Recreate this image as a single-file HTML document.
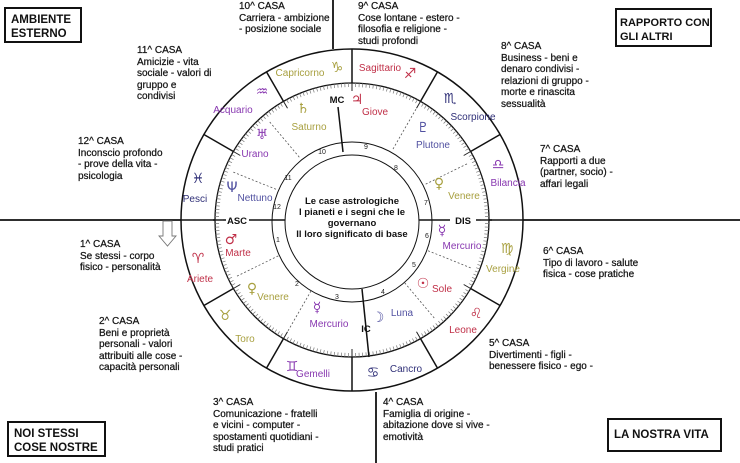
<!DOCTYPE html>
<html><head><meta charset="utf-8"><style>
html,body{margin:0;padding:0;background:#fff;}
body{width:740px;height:463px;overflow:hidden;position:relative;font-family:"Liberation Sans",Arial,sans-serif;}
.t{position:absolute;font-size:10px;line-height:11.5px;color:#151515;-webkit-text-stroke:0.25px #151515;white-space:nowrap;}
.b{position:absolute;border:2px solid #111;font-size:11.5px;font-weight:bold;line-height:14px;color:#111;padding:4px 5px;box-sizing:border-box;white-space:nowrap;}
svg text{font-family:"Liberation Sans",Arial,"DejaVu Sans",sans-serif;}
.sy{font-family:"DejaVu Sans",sans-serif !important;font-size:14px;}
</style></head><body>
<svg id="s" width="740" height="463" style="position:absolute;left:0;top:0">
<g stroke="#111" fill="none">
<line x1="0" y1="220" x2="181" y2="220" stroke-width="1.8"/>
<line x1="523" y1="220" x2="740" y2="220" stroke-width="1.8"/>
<line x1="333" y1="0" x2="333" y2="49" stroke-width="1.8"/>
<line x1="376" y1="392" x2="376" y2="463" stroke-width="1.8"/>
<circle cx="352" cy="220" r="171" stroke-width="1.5"/>
<circle cx="352" cy="220" r="137" stroke-width="1.3"/>
<circle cx="352" cy="222" r="80" stroke-width="1"/>
<circle cx="352" cy="222" r="67" stroke-width="1"/>
<line x1="213" y1="220" x2="226" y2="220" stroke-width="1.5"/>
<line x1="249" y1="220" x2="285" y2="220" stroke-width="1.5"/>
<line x1="419" y1="220" x2="450" y2="220" stroke-width="1.5"/>
<line x1="476" y1="220" x2="492" y2="220" stroke-width="1.5"/>
<line x1="338" y1="107" x2="343" y2="152" stroke-width="1.5"/>
<line x1="362" y1="289" x2="369" y2="357" stroke-width="1.5"/>
<path d="M163 221 L172 221 L172 236 L176 236 L167.5 246 L159 236 L163 236 Z" stroke="#777" stroke-width="0.9"/>
</g>
<g id="tk"></g>
<g font-size="10" text-anchor="middle">
<text x="300" y="76" fill="#a8a040">Capricorno</text><text class="sy" x="337" y="72" fill="#a8a040">♑</text>
<text x="380" y="71" fill="#c03048">Sagittario</text><text class="sy" x="410" y="78" fill="#c03048">♐</text>
<text x="473" y="120" fill="#303078">Scorpione</text><text class="sy" x="450" y="103" fill="#303078">♏</text>
<text x="508" y="186" fill="#8838b0">Bilancia</text><text class="sy" x="498" y="169" fill="#8838b0">♎</text>
<text x="503" y="272" fill="#a8a040">Vergine</text><text class="sy" x="507" y="253" fill="#a8a040">♍</text>
<text x="463" y="333" fill="#c03048">Leone</text><text class="sy" x="476" y="318" fill="#c03048">♌</text>
<text x="406" y="372" fill="#303078">Cancro</text><text class="sy" x="373" y="377" fill="#303078">♋</text>
<text x="313" y="377" fill="#8838b0">Gemelli</text><text class="sy" x="292" y="371" fill="#8838b0">♊</text>
<text x="245" y="342" fill="#a8a040">Toro</text><text class="sy" x="225" y="320" fill="#a8a040">♉</text>
<text x="200" y="282" fill="#c03048">Ariete</text><text class="sy" x="198" y="263" fill="#c03048">♈</text>
<text x="195" y="202" fill="#303078">Pesci</text><text class="sy" x="198" y="183" fill="#303078">♓</text>
<text x="233" y="113" fill="#8838b0">Acquario</text><text class="sy" x="262" y="96" fill="#8838b0">♒</text>

<text x="309" y="130" fill="#a8a040">Saturno</text><text class="sy" x="303" y="113" fill="#a8a040">♄</text>
<text x="375" y="115" fill="#c03048">Giove</text><text class="sy" x="357" y="104" fill="#c03048">♃</text>
<text x="433" y="148" fill="#5050a0">Plutone</text><text class="sy" x="423" y="132" fill="#5050a0">♇</text>
<text x="464" y="199" fill="#a8a040">Venere</text><text class="sy" x="439" y="188" fill="#a8a040">♀</text>
<text x="462" y="249" fill="#8838b0">Mercurio</text><text class="sy" x="442" y="235" fill="#8838b0">☿</text>
<text x="442" y="292" fill="#c03048">Sole</text><text class="sy" x="423" y="288" fill="#c03048">☉</text>
<text x="402" y="316" fill="#5050a0">Luna</text><text class="sy" x="378" y="322" fill="#5050a0">☽</text>
<text x="329" y="327" fill="#8838b0">Mercurio</text><text class="sy" x="317" y="312" fill="#8838b0">☿</text>
<text x="273" y="300" fill="#a8a040">Venere</text><text class="sy" x="252" y="293" fill="#a8a040">♀</text>
<text x="238" y="256" fill="#c03048">Marte</text><text class="sy" x="231" y="244" fill="#c03048">♂</text>
<text x="255" y="201" fill="#5050a0">Nettuno</text><text class="sy" x="232" y="192" fill="#5050a0">Ψ</text>
<text x="255" y="157" fill="#8838b0">Urano</text><text class="sy" x="262" y="139" fill="#8838b0">♅</text>
</g>
<g font-size="7" fill="#222" text-anchor="middle">
<text x="322" y="154">10</text><text x="366" y="149">9</text><text x="396" y="170">8</text><text x="426" y="205">7</text>
<text x="427" y="238">6</text><text x="414" y="267">5</text><text x="383" y="294">4</text><text x="337" y="299">3</text>
<text x="297" y="286">2</text><text x="278" y="242">1</text><text x="277" y="209">12</text><text x="288" y="180">11</text>
</g>
<g font-size="9.5" font-weight="bold" fill="#111" text-anchor="middle">
<text x="337" y="103">MC</text><text x="366" y="332">IC</text>
<text x="237" y="224">ASC</text><text x="463" y="224">DIS</text>
</g>
<g font-size="9.5" font-weight="bold" fill="#111" text-anchor="middle">
<text x="352" y="204">Le case astrologiche</text>
<text x="352" y="215">I pianeti e i segni  che le</text>
<text x="352" y="226">governano</text>
<text x="352" y="237">Il loro significato di base</text>
</g>
</svg>
<script>
(function(){
var g=document.getElementById('tk'),cx=352,cy=220,h='';
function L(a,r1,r2,c,w,d){var t=a*Math.PI/180;return '<line x1="'+(cx+r1*Math.cos(t)).toFixed(1)+'" y1="'+(cy-r1*Math.sin(t)).toFixed(1)+'" x2="'+(cx+r2*Math.cos(t)).toFixed(1)+'" y2="'+(cy-r2*Math.sin(t)).toFixed(1)+'" stroke="'+c+'" stroke-width="'+w+'"'+(d?' stroke-dasharray="2,2"':'')+'/>';}
for(var a=0;a<360;a+=1.5){var big=(Math.round(a*2)%20==0);var len=big?8:4;h+=L(a,137,137-len,big?'#222':'#777',big?1:0.7);}
for(var a=0;a<360;a+=30){h+=L(a,137,171,'#111',1.5);}
var cs=[130,158,206,240,310,338,26,60];
for(var i=0;i<cs.length;i++){h+=L(cs[i],82,128,'#555',0.8,1);}
g.innerHTML=h;
})();
</script>
<div class="b" style="left:4px;top:7px;width:78px;height:36px">AMBIENTE<br>ESTERNO</div>
<div class="b" style="left:615px;top:8px;width:97px;height:39px;padding:6px 3px 0 3px;font-size:11px">RAPPORTO CON<br>GLI ALTRI</div>
<div class="b" style="left:7px;top:421px;width:99px;height:36px">NOI STESSI<br>COSE NOSTRE</div>
<div class="b" style="left:607px;top:418px;width:115px;height:34px;padding-top:8px">LA NOSTRA VITA</div>

<div class="t" style="left:239px;top:1px">10^ CASA<br>Carriera - ambizione<br>- posizione sociale</div>
<div class="t" style="left:358px;top:1px">9^ CASA<br>Cose lontane - estero -<br>filosofia e religione -<br>studi profondi</div>
<div class="t" style="left:137px;top:45px">11^ CASA<br>Amicizie -  vita<br>sociale - valori di<br>gruppo e<br>condivisi</div>
<div class="t" style="left:501px;top:41px">8^ CASA<br>Business - beni e<br>denaro condivisi -<br>relazioni di gruppo -<br>morte e rinascita<br>sessualità</div>
<div class="t" style="left:78px;top:136px">12^ CASA<br>Inconscio profondo<br>- prove della vita -<br>psicologia</div>
<div class="t" style="left:80px;top:239px">1^ CASA<br>Se stessi - corpo<br>fisico - personalità</div>
<div class="t" style="left:540px;top:144px">7^ CASA<br>Rapporti a due<br>(partner, socio) -<br>affari legali</div>
<div class="t" style="left:543px;top:246px">6^ CASA<br>Tipo di lavoro - salute<br>fisica - cose pratiche</div>
<div class="t" style="left:489px;top:338px">5^ CASA<br>Divertimenti - figli -<br>benessere fisico - ego -</div>
<div class="t" style="left:99px;top:316px">2^ CASA<br>Beni e proprietà<br>personali - valori<br>attribuiti alle cose -<br>capacità personali</div>
<div class="t" style="left:213px;top:397px">3^ CASA<br>Comunicazione - fratelli<br>e vicini - computer -<br>spostamenti quotidiani -<br>studi pratici</div>
<div class="t" style="left:383px;top:397px">4^ CASA<br>Famiglia di origine -<br>abitazione dove si vive -<br>emotività</div>
</body></html>
